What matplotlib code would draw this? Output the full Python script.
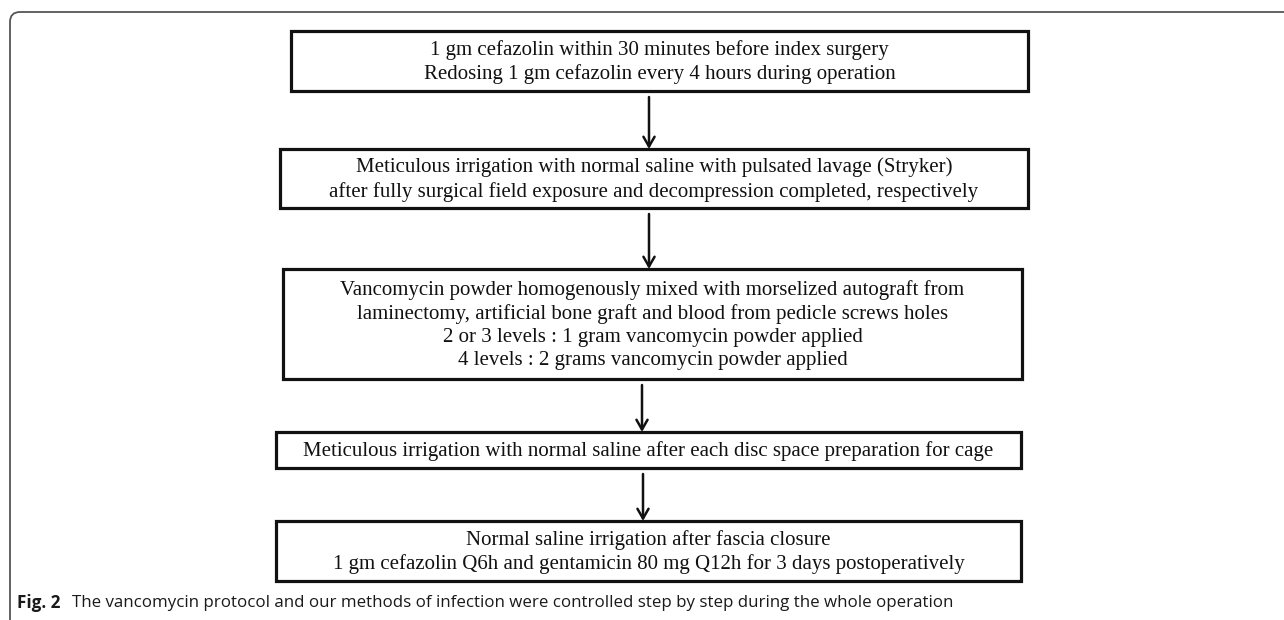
import matplotlib
matplotlib.use("Agg")
import matplotlib.pyplot as plt
from matplotlib.patches import Rectangle
from matplotlib.path import Path
from matplotlib.patches import PathPatch

# ---- content ----
step_texts = [
    "1 gm cefazolin within 30 minutes before index surgery\n"
    "Redosing 1 gm cefazolin every 4 hours during operation",
    "Meticulous irrigation with normal saline with pulsated lavage (Stryker)\n"
    "after fully surgical field exposure and decompression completed, respectively",
    "Vancomycin powder homogenously mixed with morselized autograft from\n"
    "laminectomy, artificial bone graft and blood from pedicle screws holes\n"
    "2 or 3 levels : 1 gram vancomycin powder applied\n"
    "4 levels : 2 grams vancomycin powder applied",
    "Meticulous irrigation with normal saline after each disc space preparation for cage",
    "Normal saline irrigation after fascia closure\n"
    "1 gm cefazolin Q6h and gentamicin 80 mg Q12h for 3 days postoperatively",
]
caption_bold = "Fig. 2"
caption_text = "The vancomycin protocol and our methods of infection were controlled step by step during the whole operation"

# ---- layout (pixels) ----
W, H = 1284, 620
box_left = [291, 280, 283, 276, 276]
box_right = [1028, 1028, 1022, 1021, 1021]
box_top = [31, 149, 269, 432, 521]
box_bottom = [91, 208, 379, 468, 581]
arrow_x = [649, 649, 642, 643]

fig = plt.figure(figsize=(W / 100, H / 100), dpi=100)
ax = fig.add_axes([0, 0, 1, 1])
ax.set_xlim(0, W)
ax.set_ylim(H, 0)
ax.axis("off")

# outer rounded frame (top and left only)
r = 10
verts = [(1284, 12), (10 + r, 12), (10, 12), (10, 12 + r), (10, 620)]
codes = [Path.MOVETO, Path.LINETO, Path.CURVE3, Path.CURVE3, Path.LINETO]
ax.add_patch(PathPatch(Path(verts, codes), fill=False, edgecolor="#555555", lw=1.3))

for i, txt in enumerate(step_texts):
    l, rgt, t, b = box_left[i], box_right[i], box_top[i], box_bottom[i]
    ax.add_patch(Rectangle((l, t), rgt - l, b - t, fill=False, edgecolor="#111111", lw=2.3))
    ax.text((l + rgt) / 2, (t + b) / 2 + 1, txt, ha="center", va="center",
            fontsize=15, family="Liberation Serif", color="#111111", linespacing=1.3)

for i, x in enumerate(arrow_x):
    y0 = box_bottom[i] + 6
    y1 = box_top[i + 1]
    ax.annotate("", xy=(x, y1), xytext=(x, y0),
                arrowprops=dict(arrowstyle="->,head_length=0.7,head_width=0.4",
                                color="#111111", lw=1.8, shrinkA=0, shrinkB=0))

ax.text(17, 603, caption_bold, ha="left", va="center", fontsize=12.3,
        family="Open Sans", fontweight="bold", color="#1a1a1a")
ax.text(72, 603, caption_text, ha="left", va="center", fontsize=12.2,
        family="Open Sans", color="#1a1a1a")

fig.savefig("out.png", dpi=100)
